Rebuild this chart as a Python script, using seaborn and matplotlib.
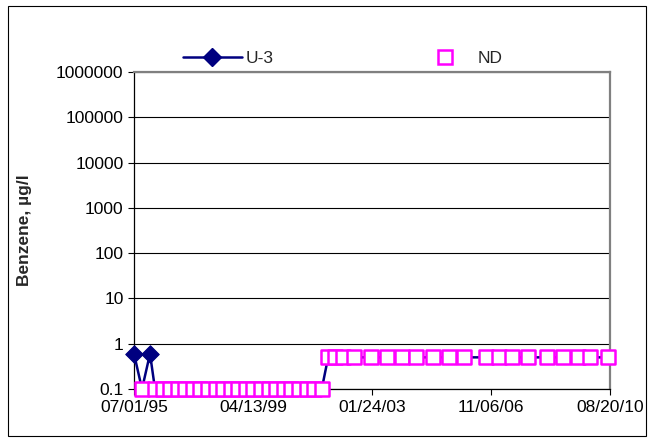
import matplotlib
matplotlib.use("Agg")
import matplotlib.pyplot as plt
import matplotlib.dates as mdates
from matplotlib.lines import Line2D
from matplotlib.patches import Rectangle
import numpy as np
import pandas as pd
import seaborn as sns

# U-3 detected benzene results (ug/l)
detect_dates = ["1995-07-01", "1996-01-03"]
detect_values = [0.6, 0.6]

# non-detects, plotted at the reporting limit
nd_dates = [
    "1995-10-02",
    "1996-03-01", "1996-05-28", "1996-08-24", "1996-11-20",
    "1997-02-16", "1997-05-15", "1997-08-11", "1997-11-07",
    "1998-02-03", "1998-05-02", "1998-07-29", "1998-10-25",
    "1999-01-21", "1999-04-19", "1999-07-16", "1999-10-12",
    "2000-01-08", "2000-04-05", "2000-07-02", "2000-09-28",
    "2000-12-25", "2001-03-23", "2001-06-20",
    "2001-09-02", "2001-11-21", "2002-02-22", "2002-06-29",
    "2003-01-12", "2003-07-17", "2004-01-07", "2004-06-18",
    "2005-01-01", "2005-07-06", "2005-12-27", "2006-09-09",
    "2007-02-07", "2007-07-08", "2008-01-10", "2008-08-17",
    "2009-02-19", "2009-08-12", "2009-12-30", "2010-07-27",
]
nd_values = [0.1] * 24 + [0.5] * 20

x_ticks = ["1995-07-01", "1999-04-13", "2003-01-24", "2006-11-06", "2010-08-20"]
y_ticks = [0.1, 1, 10, 100, 1000, 10000, 100000, 1000000]
y_ticklabels = ["0.1", "1", "10", "100", "1000", "10000", "100000", "1000000"]

NAVY = "#000080"
MAGENTA = "#FF00FF"

det = pd.DataFrame({"date": pd.to_datetime(detect_dates), "value": detect_values})
nd = pd.DataFrame({"date": pd.to_datetime(nd_dates), "value": nd_values})
series = pd.concat([det, nd]).sort_values("date").reset_index(drop=True)

sns.set_theme(style="white")
plt.rcParams["font.family"] = ["Liberation Sans", "DejaVu Sans"]

fig = plt.figure(figsize=(6.53, 4.42), dpi=100)
ax = fig.add_axes([134 / 653, 1 - 389 / 442, 476 / 653, 317 / 442])

# connecting line for the whole U-3 record
sns.lineplot(data=series, x="date", y="value", ax=ax, color=NAVY,
             linewidth=1.8, sort=False, zorder=3)
# diamonds on detected results
sns.scatterplot(data=det, x="date", y="value", ax=ax, marker="D",
                color=NAVY, edgecolor=NAVY, s=80, zorder=4)
# hollow squares on non-detects
sns.scatterplot(data=nd, x="date", y="value", ax=ax, marker="s",
                facecolor="white", edgecolor=MAGENTA, linewidth=1.8,
                s=95, zorder=5)

for art in ax.lines + ax.collections:
    art.set_clip_on(False)

ax.set_yscale("log")
ax.set_ylim(0.1, 1000000)
ax.set_yticks(y_ticks)
ax.set_yticklabels(y_ticklabels)
ax.yaxis.set_minor_locator(matplotlib.ticker.NullLocator())

xt = pd.to_datetime(x_ticks)
ax.set_xlim(xt[0], xt[-1])
ax.set_xticks(xt)
ax.xaxis.set_major_formatter(mdates.DateFormatter("%m/%d/%y"))

ax.grid(axis="y", color="black", linewidth=0.8)
ax.grid(axis="x", visible=False)
ax.set_axisbelow(True)

ax.tick_params(axis="both", which="major", labelsize=12.5, colors="black",
               direction="out", length=4, width=0.8, bottom=True, left=True)
ax.tick_params(axis="x", pad=4)

for side in ["left", "bottom"]:
    ax.spines[side].set_color("black")
    ax.spines[side].set_linewidth(0.9)
for side in ["top", "right"]:
    ax.spines[side].set_color("#808080")
    ax.spines[side].set_linewidth(1.6)

ax.set_xlabel("")
ax.set_ylabel("Benzene, µg/l", fontsize=12.5, fontweight="bold")
ax.yaxis.set_label_coords(-0.215, 0.5)

handles = [
    Line2D([], [], color=NAVY, linewidth=1.8, marker="D", markersize=9),
    Line2D([], [], linestyle="none", marker="s", markersize=9.5,
           markerfacecolor="white", markeredgecolor=MAGENTA, markeredgewidth=1.8),
]
fig.legend(handles, ["U-3", "ND"], loc="center", bbox_to_anchor=(0.525, 0.868),
           ncol=2, frameon=False, fontsize=12.5, handlelength=3.4,
           handletextpad=0.2, columnspacing=8.2)

fig.patches.append(Rectangle((8 / 653, 6 / 442), 638 / 653, 430 / 442,
                             transform=fig.transFigure, fill=False,
                             edgecolor="black", linewidth=0.8))

fig.savefig("out.png", dpi=100)
